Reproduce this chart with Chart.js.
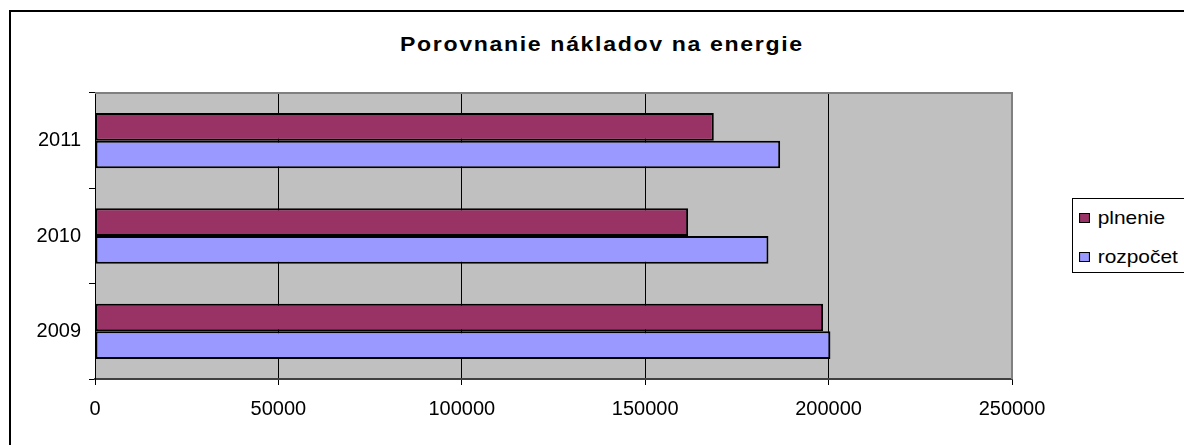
<!DOCTYPE html>
<html>
<head>
<meta charset="utf-8">
<script src="https://cdn.jsdelivr.net/npm/chart.js@4/dist/chart.umd.min.js"></script>
<style>
    html, body { margin: 0; padding: 0; background: #fff; overflow: hidden; }
    body { width: 1184px; height: 445px; position: relative; font-family: "Liberation Sans", Arial, sans-serif; }
    #frame { position: absolute; left: 9px; top: 10px; width: 1200px; height: 460px; border-left: 2px solid #000; border-top: 2px solid #000; }
    #title { position: absolute; left: 400px; top: 32px; font-weight: bold; font-size: 21px; letter-spacing: 1.5px; color: #000; white-space: nowrap; transform: scaleX(1.1); transform-origin: left center; }
    #chartWrap { position: absolute; left: 0; top: 0; width: 1184px; height: 445px; }
    #legend { position: absolute; left: 1072px; top: 198px; width: 140px; height: 73px; border: 1px solid #000; background: #fff; }
    .item { position: absolute; left: 6px; font-size: 19px; line-height: 20px; white-space: nowrap; transform: scaleX(1.1); transform-origin: left center; }
    .item .sw { display: inline-block; width: 8px; height: 8px; border: 1px solid #000; margin-right: 7px; vertical-align: 1px; }
</style>
</head>
<body>
<div id="frame"></div>
<div id="title">Porovnanie nákladov na energie</div>
<div id="chartWrap"><canvas id="chart" width="1184" height="445"></canvas></div>
<div id="legend"></div>
<script>
    const years = ['2009', '2010', '2011'];
    const plnenie = [198500, 161700, 168700];
    const rozpocet = [200500, 183600, 186800];
    const xTicks = [0, 50000, 100000, 150000, 200000, 250000];
    const seriesNames = ['plnenie', 'rozpočet'];

    const palette = {
        plnenie: '#993366',
        rozpocet: '#9999FF',
        plot: '#C0C0C0',
        plotEdge: '#808080',
    };

    // gray plot background plus the gray top/right edge like the old Excel chart
    const plotArea = {
        id: 'plotArea',
        beforeDraw(chart) {
            const { ctx, chartArea: a } = chart;
            ctx.save();
            ctx.fillStyle = palette.plot;
            ctx.fillRect(a.left, a.top, a.right - a.left, a.bottom - a.top);
            ctx.restore();
        },
        afterDraw(chart) {
            const { ctx, chartArea: a } = chart;
            ctx.save();
            ctx.strokeStyle = palette.plotEdge;
            ctx.lineWidth = 2;
            ctx.beginPath();
            ctx.moveTo(a.left, a.top);
            ctx.lineTo(a.right, a.top);
            ctx.lineTo(a.right, a.bottom);
            ctx.stroke();
            ctx.restore();
        },
    };

    const tickFont = { family: '"Liberation Sans", Arial, sans-serif', size: 20 };

    new Chart(document.getElementById('chart'), {
        type: 'bar',
        data: {
            labels: years,
            datasets: [{
                label: seriesNames[0],
                data: plnenie,
                backgroundColor: palette.plnenie,
                borderColor: '#000',
                borderWidth: 2,
                borderSkipped: false,
            }, {
                label: seriesNames[1],
                data: rozpocet,
                backgroundColor: palette.rozpocet,
                borderColor: '#000',
                borderWidth: 2,
                borderSkipped: false,
            }],
        },
        options: {
            indexAxis: 'y',
            responsive: false,
            animation: false,
            layout: { padding: { left: 0, top: 93, right: 172, bottom: 0 } },
            datasets: { bar: { barPercentage: 1, categoryPercentage: 0.58 } },
            plugins: { legend: { display: false }, tooltip: { enabled: false }, title: { display: false } },
            scales: {
                x: {
                    min: 0,
                    max: 250000,
                    afterBuildTicks(scale) { scale.ticks = xTicks.map(v => ({ value: v })); },
                    afterFit(scale) { scale.height = 66; },
                    grid: { color: '#000', lineWidth: 1, tickLength: 6 },
                    border: { color: '#404040', width: 2 },
                    ticks: { color: '#000', font: tickFont, padding: 12, maxRotation: 0, callback: v => String(v) },
                },
                y: {
                    reverse: true,
                    afterFit(scale) { scale.width = 95; },
                    grid: { drawOnChartArea: false, color: '#000', tickLength: 6, offset: true },
                    border: { color: '#000', width: 1 },
                    ticks: { color: '#000', font: tickFont, padding: 8 },
                },
            },
        },
        plugins: [plotArea],
    });

    const legend = document.getElementById('legend');
    [palette.plnenie, palette.rozpocet].forEach(function (color, i) {
        const row = document.createElement('div');
        row.className = 'item';
        row.style.top = (9 + i * 39) + 'px';
        row.innerHTML = '<span class="sw" style="background:' + color + '"></span>' + seriesNames[i];
        legend.appendChild(row);
    });
</script>
</body>
</html>
